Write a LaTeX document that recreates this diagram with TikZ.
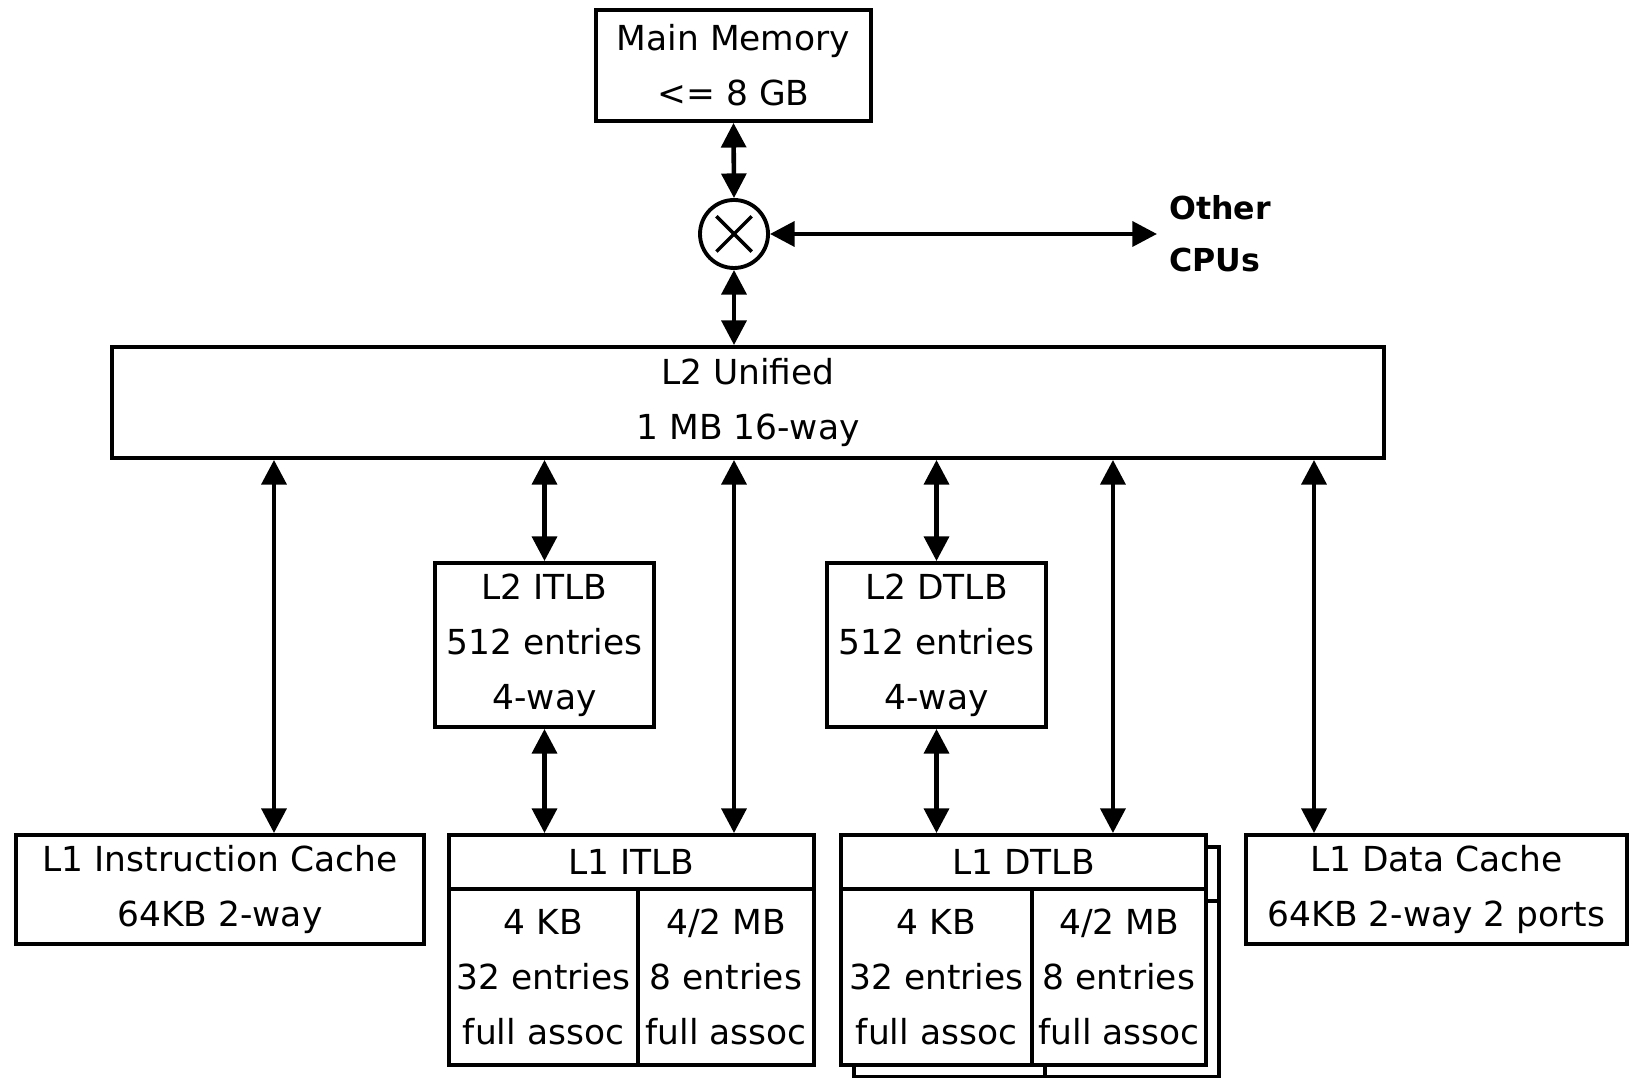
\documentclass[tikz,border=0pt]{standalone}
\usepackage{fontspec}
\setmainfont{DejaVu Sans}
\usetikzlibrary{arrows.meta}
\tikzstyle{blk}=[rectangle,draw=black,fill=white,line width=1.1pt,inner sep=0pt,
  align=center,font=\fontsize{9.8}{15.6}\selectfont]
\tikzstyle{xn}=[circle,draw=black,fill=white,line width=1.1pt,
  minimum size=0.68cm,inner sep=0pt]
\tikzstyle{lnk}=[line width=1.3pt,
  {Triangle[length=7pt,width=7pt]}-{Triangle[length=7pt,width=7pt]}]

\begin{document}
\begin{tikzpicture}
        \useasboundingbox (0,0) rectangle (16.35,10.77);
        \node[style=blk,minimum width=2.75cm,minimum height=1.11cm] (mem) at (7.335,10.115) {Main Memory\\<= 8 GB};
        \node[style=xn] (xbar) at (7.34,8.43) {};
        \node[font=\bfseries\fontsize{9}{14.8}\selectfont,align=left,anchor=west] (cpus) at (11.57,8.43) {Other\\CPUs};
        \node[style=blk,minimum width=12.72cm,minimum height=1.11cm] (l2) at (7.48,6.745) {L2 Unified\\1 MB 16-way};
        \node[style=blk,minimum width=2.19cm,minimum height=1.64cm] (l2i) at (5.445,4.32) {L2 ITLB\\512 entries\\4-way};
        \node[style=blk,minimum width=2.19cm,minimum height=1.64cm] (l2d) at (9.365,4.32) {L2 DTLB\\512 entries\\4-way};
        \node[style=blk,minimum width=4.08cm,minimum height=1.09cm] (l1i) at (2.20,1.875) {L1 Instruction Cache\\64KB 2-way};
        \node[style=blk,minimum width=3.81cm,minimum height=1.09cm] (l1d) at (14.365,1.875) {L1 Data Cache\\64KB 2-way 2 ports};
        % L1 ITLB
        \node[style=blk,minimum width=3.65cm,minimum height=0.54cm] (itlb) at (6.315,2.15) {L1 ITLB};
        \node[style=blk,minimum width=1.89cm,minimum height=1.76cm] (itlbl) at (5.435,1.00) {4 KB\\32 entries\\full assoc};
        \node[style=blk,minimum width=1.76cm,minimum height=1.76cm] (itlbr) at (7.26,1.00) {4/2 MB\\8 entries\\full assoc};
        % L1 DTLB, second copy behind
        \begin{scope}[xshift=0.13cm,yshift=-0.12cm]
                \node[style=blk,minimum width=3.65cm,minimum height=0.54cm] (dtlb2) at (10.235,2.15) {};
                \node[style=blk,minimum width=1.91cm,minimum height=1.76cm] (dtlbl2) at (9.365,1.00) {};
                \node[style=blk,minimum width=1.74cm,minimum height=1.76cm] (dtlbr2) at (11.19,1.00) {};
        \end{scope}
        \node[style=blk,minimum width=3.65cm,minimum height=0.54cm] (dtlb) at (10.235,2.15) {L1 DTLB};
        \node[style=blk,minimum width=1.91cm,minimum height=1.76cm] (dtlbl) at (9.365,1.00) {4 KB\\32 entries\\full assoc};
        \node[style=blk,minimum width=1.74cm,minimum height=1.76cm] (dtlbr) at (11.19,1.00) {4/2 MB\\8 entries\\full assoc};
        \draw[line width=1pt,shorten <=1.1mm,shorten >=1.1mm] (xbar.45) to (xbar.225);
        \draw[line width=1pt,shorten <=1.1mm,shorten >=1.1mm] (xbar.135) to (xbar.315);
        \coordinate (ic) at ([xshift=0.54cm]l1i.north);
        \coordinate (dc) at ([xshift=-0.95cm]dtlb.north east);
        \coordinate (ec) at ([xshift=-1.225cm]l1d.north);
        \draw[style=lnk] (mem.south) to (xbar.north);
        \draw[style=lnk] (xbar.south) to (l2.north -| xbar);
        \draw[style=lnk] (xbar.east) to (cpus.west |- xbar);
        \draw[style=lnk] (ic) to (ic |- l2.south);
        \draw[style=lnk] (l2i.north) to (l2i.north |- l2.south);
        \draw[style=lnk] (l2i.south) to (itlb.north -| l2i);
        \draw[style=lnk] (itlb.north -| xbar) to (l2.south -| xbar);
        \draw[style=lnk] (l2d.north) to (l2d.north |- l2.south);
        \draw[style=lnk] (l2d.south) to (dtlb.north -| l2d);
        \draw[style=lnk] (dc) to (dc |- l2.south);
        \draw[style=lnk] (ec) to (ec |- l2.south);
    \end{tikzpicture}
\end{document}
